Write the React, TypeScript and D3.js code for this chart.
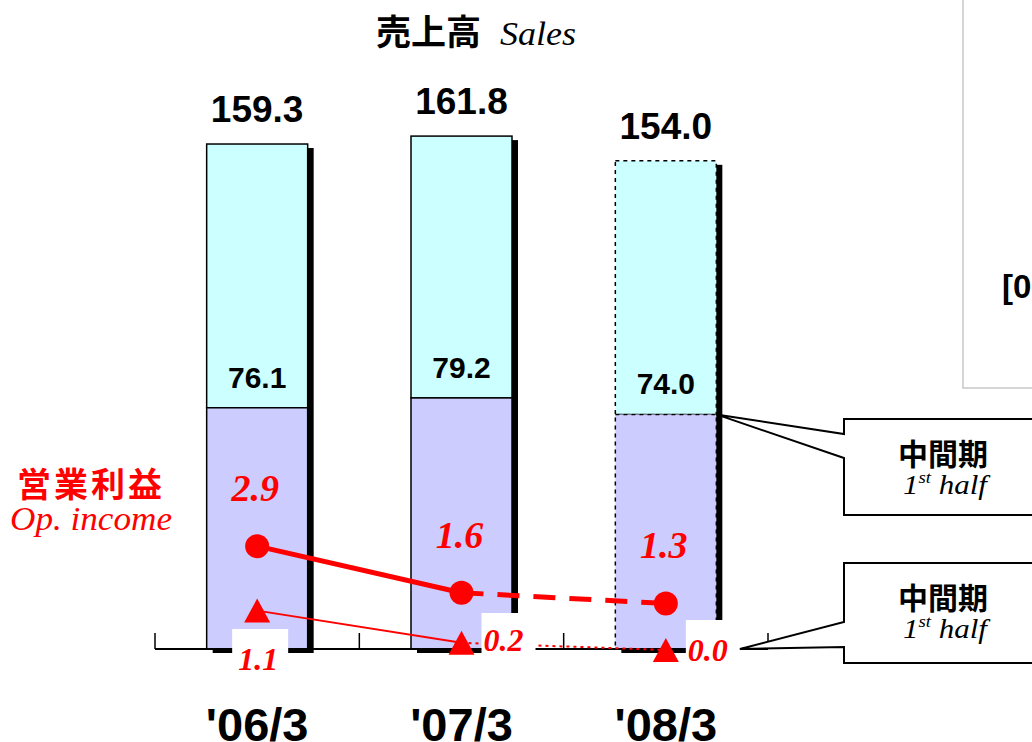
import React from "react";
import * as d3 from "d3";

const categories = ["'06/3", "'07/3", "'08/3"];
const salesTotal = [159.3, 161.8, 154.0];
const salesFirstHalf = [76.1, 79.2, 74.0];
const opIncome = [2.9, 1.6, 1.3];
const opIncomeFirstHalf = [1.1, 0.2, 0.0];
const isForecast = [false, false, true];
const lineLabels = ["2.9", "1.6", "1.3"];
const triLabels = ["1.1", "0.2", "0.0"];

const W = 1032;
const H = 742;
const SANS = "'Liberation Sans', Arial, sans-serif";
const SERIF = "'Liberation Serif', 'Times New Roman', serif";
const CJK = "'Noto Sans CJK JP', sans-serif";
const RED = "#ff0000";

export default function App() {
  const x = d3.scalePoint<string>().domain(categories).range([155, 768]).padding(0.5);
  const step = x.step();
  const y = d3.scaleLinear().domain([0, 160]).range([649, 649 - 160 * 3.17]);
  const y2 = d3.scaleLinear().domain([0, 3]).range([650, 650 - 3 * 35.8]);
  const bw = 101;
  const base = y(0);

  const circlePts: [number, number][] = opIncome.map((v, i) => [x(categories[i])!, y2(v)]);
  const triPts: [number, number][] = opIncomeFirstHalf.map((v, i) => [x(categories[i])!, y2(v)]);
  const line = d3.line();

  const tickXs = d3.range(categories.length + 1).map((i) => 155 + i * step);
  const triPath = (cx: number, cy: number) =>
    `M${cx},${cy - 12}L${cx + 13},${cy + 12}L${cx - 13},${cy + 12}Z`;

  const halfLabel = (yy: number) => (
    <text x={903} y={yy} fontFamily={SERIF} fontStyle="italic" fontSize={28} fill="#000" textLength={84} lengthAdjust="spacingAndGlyphs">
      1<tspan fontSize={17} dy={-11}>st</tspan><tspan dy={11}> half</tspan>
    </text>
  );

  return (
    <svg width={W} height={H} style={{ position: "absolute", left: 0, top: 0, background: "#fff" }}>
      <rect x={0} y={0} width={W} height={H} fill="#fff" />
      {/* top-right panel */}
      <rect x={963} y={-2} width={120} height={390} fill="#fff" stroke="#c8c8c8" strokeWidth={1.5} />
      <text x={1002} y={298} fontFamily={SANS} fontWeight="bold" fontSize={33} fill="#000">[0</text>

      {/* title */}
      <text x={376} y={45} fontFamily={CJK} fontWeight="bold" fontSize={35} fill="#000">売上高</text>
      <text x={500} y={45} fontFamily={SERIF} fontStyle="italic" fontSize={34} fill="#000" textLength={76} lengthAdjust="spacingAndGlyphs">Sales</text>

      {/* bars */}
      {categories.map((c, i) => {
        const cx = x(c)!;
        const left = cx - bw / 2;
        const top = y(salesTotal[i]);
        const split = y(salesFirstHalf[i]);
        const dash = isForecast[i] ? "4,4" : undefined;
        return (
          <g key={c}>
            <rect x={left + 6} y={top + 4} width={bw} height={base - top} fill="#000" />
            <rect x={left} y={top} width={bw} height={split - top} fill="#ccffff" stroke="#000" strokeWidth={1.5} strokeDasharray={dash} />
            <rect x={left} y={split} width={bw} height={base - split} fill="#ccccff" stroke="#000" strokeWidth={1.5} strokeDasharray={dash} />
          </g>
        );
      })}

      {/* axis */}
      <line x1={tickXs[0]} x2={tickXs[tickXs.length - 1]} y1={base} y2={base} stroke="#000" strokeWidth={2} />
      {tickXs.map((tx, i) => (
        <line key={i} x1={tx} x2={tx} y1={base} y2={base - 16} stroke="#000" strokeWidth={1.5} />
      ))}

      {/* value labels */}
      {categories.map((c, i) => (
        <g key={"lab" + c}>
          <text x={x(c)!} y={y(salesTotal[i]) - 22} textAnchor="middle" fontFamily={SANS} fontWeight="bold" fontSize={37} fill="#000">
            {salesTotal[i].toFixed(1)}
          </text>
          <text x={x(c)!} y={y(salesFirstHalf[i]) - 20} textAnchor="middle" fontFamily={SANS} fontWeight="bold" fontSize={30} fill="#000">
            {salesFirstHalf[i].toFixed(1)}
          </text>
          <text x={x(c)!} y={741} textAnchor="middle" fontFamily={SANS} fontWeight="bold" fontSize={47} fill="#000">
            {c}
          </text>
        </g>
      ))}

      {/* op income lines */}
      <path d={line([circlePts[0], circlePts[1]])!} stroke={RED} strokeWidth={5} fill="none" />
      <path d={line([circlePts[1], circlePts[2]])!} stroke={RED} strokeWidth={5} fill="none" strokeDasharray="22,14" />
      <path d={line([triPts[0], triPts[1]])!} stroke={RED} strokeWidth={2} fill="none" />
      <path d={line([triPts[1], triPts[2]])!} stroke={RED} strokeWidth={2} fill="none" strokeDasharray="3,4" />

      {circlePts.map(([cx, cy], i) => (
        <circle key={"c" + i} cx={cx} cy={cy} r={12} fill={RED} />
      ))}
      {triPts.map(([cx, cy], i) => (
        <path key={"t" + i} d={triPath(cx, cy)} fill={RED} />
      ))}

      {/* line value labels */}
      {circlePts.map(([cx, cy], i) => (
        <text key={"cl" + i} x={cx - 2} y={cy - 45} textAnchor="middle" fontFamily={SERIF} fontStyle="italic" fontWeight="bold" fontSize={38} fill={RED}>
          {lineLabels[i]}
        </text>
      ))}
      {/* triangle labels with white backgrounds */}
      <rect x={triPts[0][0] - 25} y={629} width={56} height={44} fill="#fff" />
      <text x={triPts[0][0] + 1} y={670} textAnchor="middle" fontFamily={SERIF} fontStyle="italic" fontWeight="bold" fontSize={32} fill={RED}>
        {triLabels[0]}
      </text>
      <rect x={triPts[1][0] + 20} y={613} width={54} height={46} fill="#fff" />
      <text x={triPts[1][0] + 22} y={651} fontFamily={SERIF} fontStyle="italic" fontWeight="bold" fontSize={32} fill={RED}>
        {triLabels[1]}
      </text>
      <rect x={triPts[2][0] + 20} y={620} width={54} height={44} fill="#fff" />
      <text x={triPts[2][0] + 22} y={661} fontFamily={SERIF} fontStyle="italic" fontWeight="bold" fontSize={32} fill={RED}>
        {triLabels[2]}
      </text>

      {/* left legend label */}
      <text x={17} y={497} fontFamily={CJK} fontWeight="bold" fontSize={34} letterSpacing={3} fill={RED}>営業利益</text>
      <text x={10} y={530} fontFamily={SERIF} fontStyle="italic" fontSize={34} fill={RED} textLength={162} lengthAdjust="spacingAndGlyphs">Op. income</text>

      {/* callouts */}
      <path d={`M844,419L1045,419L1045,515L844,515L844,458L${x(categories[2])! + bw / 2},${y(salesFirstHalf[2])}L844,434Z`} fill="#fff" stroke="#000" strokeWidth={2} />
      <text x={943} y={465} textAnchor="middle" fontFamily={CJK} fontWeight="bold" fontSize={30} fill="#000">中間期</text>
      {halfLabel(494)}

      <path d={`M844,563L1045,563L1045,663L844,663L844,647L740,${triPts[2][1] - 1}L844,622Z`} fill="#fff" stroke="#000" strokeWidth={2} />
      <text x={943} y={609} textAnchor="middle" fontFamily={CJK} fontWeight="bold" fontSize={30} fill="#000">中間期</text>
      {halfLabel(638)}
    </svg>
  );
}
